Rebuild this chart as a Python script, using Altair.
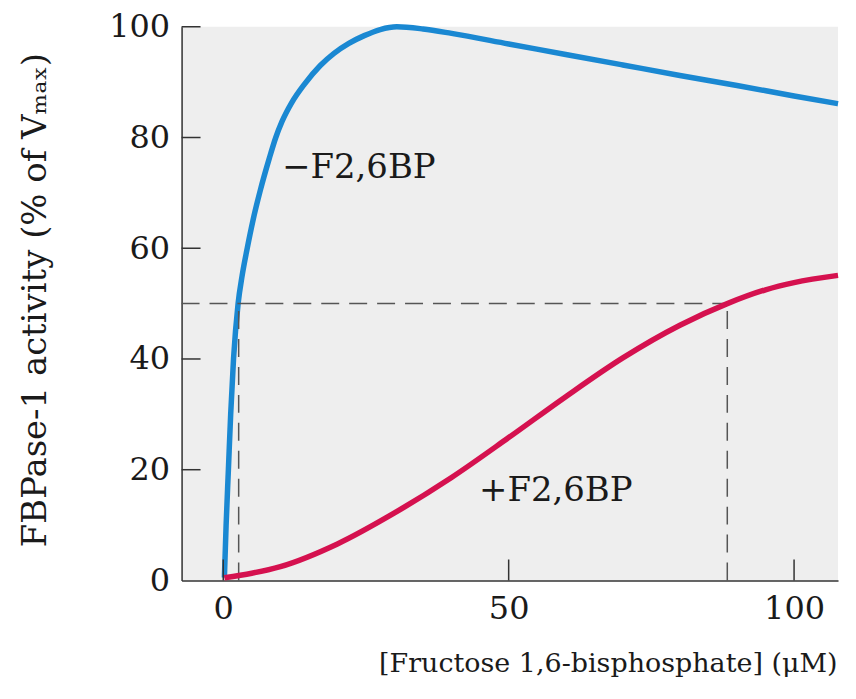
import altair as alt
import pandas as pd

# -F2,6BP curve (blue)
blue_x = [0.2, 0.5, 0.9, 1.3, 1.8, 2.6, 3.3, 4.2, 5.2, 6.5, 8.0, 9.2, 10.3, 12.0, 14.2, 17.0, 19.4, 22.0, 24.7, 27.5, 30.4, 35.0, 40.0, 50.0, 60.0, 70.0, 80.0, 90.0, 100.0, 107.7]
blue_y = [0.5, 10, 20, 30, 40, 50, 55, 60, 65, 70.5, 76.0, 80.0, 82.9, 86.3, 89.6, 93.0, 95.2, 97.0, 98.4, 99.5, 100, 99.6, 98.8, 96.9, 95.0, 93.1, 91.2, 89.4, 87.5, 86.1]

# +F2,6BP curve (red)
red_x = [0.2, 5.0, 10.0, 20.0, 30.0, 40.0, 50.0, 60.0, 70.0, 80.0, 88.3, 95.0, 100.0, 107.7]
red_y = [0.5, 1.3, 2.5, 6.6, 12.2, 18.6, 25.8, 33.2, 40.2, 46.1, 50.0, 52.5, 53.8, 55.1]

y_ticks = [20, 40, 60, 80, 100]
y_labels = [0, 20, 40, 60, 80, 100]
x_ticks = [0, 50, 100]

x_min, x_max = -7.3, 107.7
half_y = 50
half_x_minus = 2.7
half_x_plus = 88.3

label_text = ["\u2212F2,6BP", "+F2,6BP"]
label_x = [10.3, 44.8]
label_y = [74.5, 16.2]

FONT = "DejaVu Serif"
W, H = 658, 555
TOP = 18

xscale = alt.Scale(domain=[x_min, x_max], nice=False, zero=False)
yscale = alt.Scale(domain=[0, 100], nice=False)

blue_df = pd.DataFrame({"x": blue_x, "y": blue_y})
red_df = pd.DataFrame({"x": red_x, "y": red_y})

x_axis = alt.Axis(values=x_ticks, ticks=False, grid=False, domainColor="#333333", domainWidth=1.5,
                  labelFont=FONT, labelFontSize=32, labelColor="#1a1a1a", labelPadding=13,
                  title="[Fructose 1,6-bisphosphate] (\u03bcM)", titleFont=FONT, titleFontSize=27,
                  titleFontWeight="normal", titleColor="#1a1a1a", titleAlign="right",
                  titleX=W - 1, titleY=91, titleBaseline="alphabetic")
y_axis = alt.Axis(values=y_labels, ticks=False, grid=False, domainColor="#333333", domainWidth=1.5,
                  labelFont=FONT, labelFontSize=32, labelColor="#1a1a1a", labelPadding=12,
                  title="FBPase-1 activity (% of V\u2098\u2090\u2093)", titleFont=FONT, titleFontSize=34,
                  titleFontWeight="normal", titleColor="#1a1a1a", titleAngle=-90,
                  titleX=-146, titleY=H / 2 - 4, titleBaseline="middle", titleAlign="center")

base_blue = alt.Chart(blue_df).mark_line(color="#1a88d2", strokeWidth=5.5, interpolate="monotone").encode(
    x=alt.X("x:Q", scale=xscale, axis=x_axis),
    y=alt.Y("y:Q", scale=yscale, axis=y_axis),
)
red_line = alt.Chart(red_df).mark_line(color="#d5114f", strokeWidth=5.5, interpolate="monotone").encode(
    x=alt.X("x:Q", scale=xscale),
    y=alt.Y("y:Q", scale=yscale),
)

hdash = alt.Chart(pd.DataFrame({"x": [x_min], "x2": [half_x_plus], "y": [half_y]})).mark_rule(
    color="#555555", strokeWidth=1.5, strokeDash=[18, 10]).encode(
    x=alt.X("x:Q", scale=xscale), x2="x2:Q", y=alt.Y("y:Q", scale=yscale))
vdash = alt.Chart(pd.DataFrame({"x": [half_x_minus, half_x_plus], "y": [0, 0], "y2": [half_y, half_y]})).mark_rule(
    color="#555555", strokeWidth=1.5, strokeDash=[18, 10]).encode(
    x=alt.X("x:Q", scale=xscale), y=alt.Y("y:Q", scale=yscale), y2="y2:Q")

yticks = alt.Chart(pd.DataFrame({"y": y_ticks})).mark_rule(color="#333333", strokeWidth=1.5).encode(
    y=alt.Y("y:Q", scale=yscale), x=alt.value(0), x2=alt.value(19))
xticks = alt.Chart(pd.DataFrame({"x": x_ticks})).mark_rule(color="#333333", strokeWidth=1.5).encode(
    x=alt.X("x:Q", scale=xscale), y=alt.value(H), y2=alt.value(H - 21))

labels = alt.Chart(pd.DataFrame({"x": label_x, "y": label_y, "t": label_text})).mark_text(
    font=FONT, fontSize=34, align="left", baseline="middle", color="#1a1a1a").encode(
    x=alt.X("x:Q", scale=xscale), y=alt.Y("y:Q", scale=yscale), text="t:N")

chart = alt.layer(base_blue, hdash, vdash, red_line, yticks, xticks, labels).properties(
    width=W, height=H,
    autosize=alt.AutoSizeParams(type="none"),
    padding={"left": 174, "top": TOP, "right": 10, "bottom": 699 - 16 - TOP - H},
    background="white",
).configure_view(fill="#eeeeee", strokeWidth=0)

chart.save("out.html", embed_options={"renderer": "svg", "actions": False})
